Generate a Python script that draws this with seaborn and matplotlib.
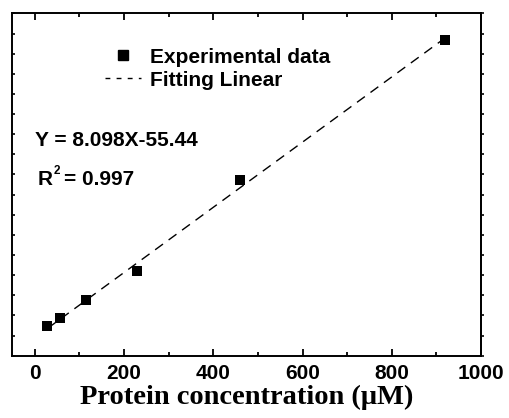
import numpy as np
import pandas as pd
import matplotlib
matplotlib.use('Agg')
import matplotlib.pyplot as plt
from matplotlib.lines import Line2D
from matplotlib.ticker import MultipleLocator
import seaborn as sns

# Data
concentration = [28.75, 57.5, 115, 230, 460, 920]
signal = [247, 430, 890, 1607, 3857, 7350]
slope = 8.098
intercept = -55.44

df = pd.DataFrame({'x': concentration, 'y': signal})
fit_x = np.array([min(concentration), max(concentration)])
fit = pd.DataFrame({'x': fit_x, 'y': slope * fit_x + intercept})

sns.set_style('ticks')
plt.rcParams['font.family'] = ['Liberation Sans', 'DejaVu Sans']
plt.rcParams['text.color'] = 'black'
plt.rcParams['axes.labelcolor'] = 'black'
plt.rcParams['xtick.color'] = 'black'
plt.rcParams['ytick.color'] = 'black'

fig = plt.figure(figsize=(5.09, 4.18), dpi=100)
ax = fig.add_axes([0.0242, 0.149, 0.921, 0.819])

sns.lineplot(data=fit, x='x', y='y', ax=ax, color='black', lw=1.0,
             linestyle=(0, (7, 5)))
sns.scatterplot(data=df, x='x', y='y', ax=ax, marker='s', s=52,
                color='black', edgecolor='black', linewidth=0, zorder=3)

ax.set_xlim(-50, 1000)
ax.set_ylim(-500, 8000)
ax.xaxis.set_major_locator(MultipleLocator(200))
ax.xaxis.set_minor_locator(MultipleLocator(100))
ax.yaxis.set_major_locator(MultipleLocator(500))

for s in ax.spines.values():
    s.set_visible(True)
    s.set_linewidth(1.4)
    s.set_color('black')

ax.tick_params(axis='x', which='major', direction='in', length=5, width=1.3,
               top=True, labelsize=15, pad=6, labelcolor='black')
ax.tick_params(axis='x', which='minor', direction='in', length=3, width=1.3, top=True)
ax.tick_params(axis='y', which='major', direction='in', length=2, width=1.2,
               left=True, right=False, labelleft=False)
for lbl in ax.get_xticklabels():
    lbl.set_fontweight('bold')
    lbl.set_color('black')

# right side ticks point outward
ax_r = ax.secondary_yaxis('right')
ax_r.yaxis.set_major_locator(MultipleLocator(500))
ax_r.tick_params(direction='out', length=2.5, width=1.2, labelright=False)
ax_r.spines['right'].set_linewidth(1.4)

ax.set_xlabel('Protein concentration (\u03bcM)', fontsize=20.5, fontweight='bold',
              family=['Liberation Serif', 'DejaVu Serif'], labelpad=1, color='black')
ax.set_ylabel('')

ax.text(0.0, 4840, 'Y = 8.098X-55.44', fontsize=15, fontweight='bold',
        va='center', ha='left', color='black')
r_txt = ax.text(7, 3874, 'R', fontsize=15, fontweight='bold',
                va='center', ha='left', color='black')
ax.annotate('2', xy=(1, 0.62), xycoords=r_txt, xytext=(0.3, 0),
            textcoords='offset points', fontsize=8.5, fontweight='bold',
            va='bottom', ha='left', color='black')
ax.annotate('= 0.997', xy=(1, 0.5), xycoords=r_txt, xytext=(8, 0),
            textcoords='offset points', fontsize=15, fontweight='bold',
            va='center', ha='left', color='black')

handles = [
    Line2D([], [], marker='s', color='black', linestyle='none', markersize=7),
    Line2D([], [], color='black', lw=1.0, linestyle=(0, (3.5, 4.5))),
]
leg = ax.legend(handles, ['Experimental data', 'Fitting Linear'], loc='upper left',
                bbox_to_anchor=(0.198, 0.90), frameon=False,
                handlelength=1.7, handletextpad=0.45, labelspacing=0.2,
                borderpad=0, borderaxespad=0, prop={'weight': 'bold', 'size': 15})
for t in leg.get_texts():
    t.set_color('black')

fig.savefig('out.png', dpi=100)
